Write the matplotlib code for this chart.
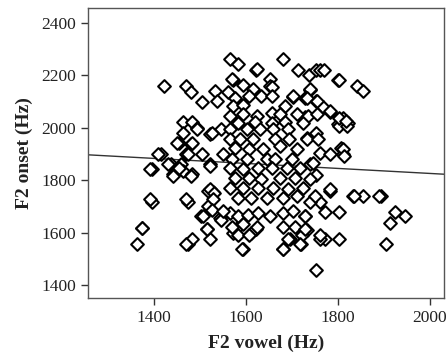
import matplotlib
matplotlib.use("Agg")
import matplotlib.pyplot as plt

# F2 vowel (Hz) and F2 onset (Hz) pairs
f2_vowel = [
    1422, 1471, 1482, 1504, 1534, 1538, 1463, 1484, 1495, 1463, 1523, 1547,
    1456, 1482, 1471, 1504, 1415, 1437, 1460, 1522, 1396, 1441, 1463, 1484,
    1396, 1374, 1363, 1474, 1474, 1484, 1502, 1515, 1523, 1519, 1528, 1519, 1543,
    1783, 1833, 1855, 1893, 1924, 1946, 1913, 1904, 1752, 1802, 1772, 1761,
    1720, 1681, 1593, 1802, 1772, 1761, 1740, 1729, 1734, 1723, 1696, 1622,
    1611, 1572, 1583,
    1681, 1622, 1565, 1583, 1713, 1737, 1752, 1761, 1800, 1841, 1855, 1572,
    1653, 1652, 1740, 1702, 1729, 1752, 1767, 1783, 1811, 1822, 1800, 1729,
    1752, 1734, 1761, 1783, 1806, 1811, 1740, 1752,
    1624, 1571, 1593, 1656, 1615, 1561, 1576, 1608, 1633, 1656, 1702, 1740,
    1733, 1754, 1572, 1593, 1685, 1565, 1593, 1624, 1656, 1674, 1711, 1735,
    1754, 1583, 1619, 1656, 1685, 1724,
    1565, 1602, 1630, 1659, 1691, 1565, 1587, 1615, 1663, 1694, 1733, 1756,
    1576, 1608, 1637, 1674, 1711, 1570, 1602, 1646, 1663, 1700, 1746, 1565,
    1593, 1626, 1656, 1689, 1717, 1576, 1608, 1633, 1674, 1706, 1739, 1565,
    1593, 1626, 1659, 1691, 1724, 1583, 1612, 1646, 1680, 1711, 1750,
    1565, 1583, 1604, 1626, 1652, 1680, 1702, 1728, 1570, 1593, 1624, 1680,
    1706, 1728, 1761, 1583, 1608, 1691, 1717, 1591, 1680,
    1493, 1526, 1450, 1484, 1409, 1474, 1550, 1391, 1430, 1456, 1441, 1482,
    1522, 1522, 1532, 1391, 1471, 1528,
    1374, 1506, 1526, 1515, 1471, 1547, 1550,
    1802, 1820, 1811, 1813, 1783, 1835, 1890,
    1770, 1802, 1783, 1802, 1817,
]
f2_onset = [
    2158, 2161, 2138, 2100, 2142, 2104, 2023, 2023, 2000, 1981, 1977, 1996,
    1942, 1938, 1900, 1900, 1900, 1862, 1862, 1862, 1842, 1823, 1835, 1823,
    1715, 1619, 1558, 1715, 1558, 1577, 1662, 1615, 1577, 1700, 1754, 1758, 1654,
    1758, 1738, 1738, 1738, 1677, 1662, 1638, 1558, 1458, 1577, 1577, 1577,
    1558, 1538, 1538, 1677, 1677, 1715, 1715, 1662, 1611, 1592, 1577, 1615,
    1600, 1600, 1623,
    2262, 2219, 2262, 2242, 2219, 2200, 2219, 2219, 2181, 2158, 2142, 2181,
    2185, 2158, 2146, 2119, 2115, 2104, 2081, 2062, 2038, 2019, 2015, 2042,
    1981, 1962, 1904, 1900, 1923, 1900, 1862, 1819,
    2223, 2188, 2165, 2154, 2150, 2135, 2112, 2123, 2123, 2123, 2123, 2150,
    2115, 2104, 2085, 2088, 2085, 2046, 2054, 2046, 2058, 2054, 2054, 2046,
    2054, 2019, 2023, 2019, 2023, 2019,
    1996, 1996, 1996, 1996, 1996, 1958, 1958, 1958, 1958, 1958, 1958, 1958,
    1923, 1919, 1919, 1931, 1919, 1881, 1881, 1881, 1881, 1881, 1865, 1846,
    1842, 1846, 1846, 1846, 1846, 1808, 1808, 1804, 1808, 1808, 1804, 1769,
    1769, 1769, 1769, 1765, 1769, 1731, 1731, 1731, 1731, 1738, 1738,
    1673, 1662, 1669, 1673, 1662, 1673, 1681, 1662, 1623, 1631, 1623, 1623,
    1623, 1615, 1592, 1592, 1592, 1577, 1558, 1538, 1538,
    1996, 1981, 1942, 1942, 1900, 1900, 1900, 1842, 1862, 1846, 1815, 1815,
    1854, 1765, 1750, 1727, 1727, 1727,
    1619, 1662, 1688, 1615, 1558, 1650, 1681,
    2008, 2008, 1919, 1892, 1765, 1738, 1738,
    2219, 2181, 2065, 2038, 2027,
]

# fit line end points (Hz)
fit_x = [1257, 2030]
fit_y = [1897, 1823]

x_ticks = [1400, 1600, 1800, 2000]
y_ticks = [1400, 1600, 1800, 2000, 2200, 2400]

plt.rcParams['font.family'] = ['Liberation Serif', 'DejaVu Serif']

fig = plt.figure(figsize=(4.46, 3.57), dpi=100)
ax = fig.add_axes([0.197, 0.165, 0.798, 0.813])

ax.scatter(f2_vowel, f2_onset, marker='D', s=42, facecolors='white',
           edgecolors='black', linewidths=1.5, zorder=3)
ax.plot(fit_x, fit_y, color='#333333', linewidth=1.0, zorder=2)

ax.set_xlim(1257, 2030)
ax.set_ylim(1350, 2458)
ax.set_xticks(x_ticks)
ax.set_yticks(y_ticks)
ax.tick_params(direction='out', length=5, width=1, labelsize=12.5, colors='#333333',
               labelcolor='#222222')
for s in ax.spines.values():
    s.set_color('#555555')
    s.set_linewidth(1.0)

ax.set_xlabel('F2 vowel (Hz)', fontsize=14, fontweight='bold', color='#222222', labelpad=6)
ax.set_ylabel('F2 onset (Hz)', fontsize=14, fontweight='bold', color='#222222', labelpad=6)

fig.savefig('out.png', dpi=100)
